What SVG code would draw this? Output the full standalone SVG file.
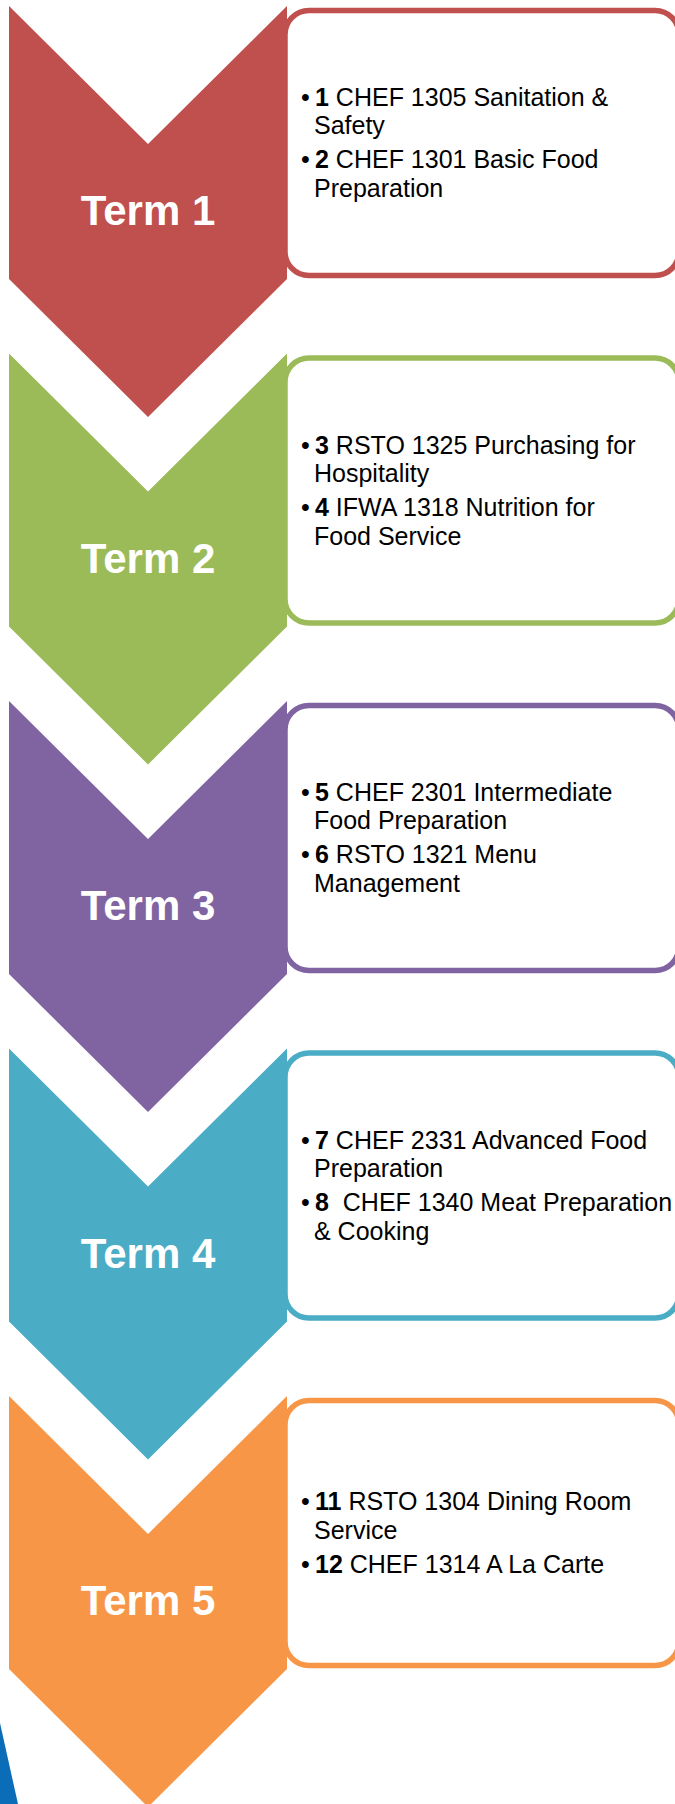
<svg xmlns="http://www.w3.org/2000/svg" width="675" height="1804" viewBox="0 0 675 1804">
  <style>
    .lbl { font-family: "Liberation Sans", Arial, sans-serif; font-weight: bold; font-size: 42px; fill: #ffffff; text-anchor: middle; }
    .body { font-family: "Liberation Sans", Arial, sans-serif; font-size: 25px; fill: #000000; }
    .num { font-weight: bold; }
    .box { fill: #ffffff; stroke-width: 5.5; }
    .t1 { fill: #C0504D; } .s1 { stroke: #C0504D; }
    .t2 { fill: #9BBB59; } .s2 { stroke: #9BBB59; }
    .t3 { fill: #8064A2; } .s3 { stroke: #8064A2; }
    .t4 { fill: #4BACC6; } .s4 { stroke: #4BACC6; }
    .t5 { fill: #F79646; } .s5 { stroke: #F79646; }
  </style>
  <defs>
    <polygon id="chev" points="9,0 148,138 287,0 287,273 148,411 9,273"/>
    <rect id="boxshape" x="285" y="4.5" width="394" height="265" rx="24" ry="24"/>
  </defs>
  <rect x="0" y="0" width="675" height="1804" fill="#ffffff"/>
  <polygon id="swoosh" points="0,1723 18,1804 0,1804" fill="#0B6DB7"/>

  <g id="term1" transform="translate(0,6)">
    <use href="#boxshape" class="box s1"/>
    <use href="#chev" class="t1"/>
    <text class="lbl" x="148" y="219">Term 1</text>
    <text class="body" x="301" y="100">•</text>
    <text class="body" x="315" y="100"><tspan class="num">1</tspan> CHEF 1305 Sanitation &amp;</text>
    <text class="body" x="314" y="128">Safety</text>
    <text class="body" x="301" y="162">•</text>
    <text class="body" x="315" y="162"><tspan class="num">2</tspan> CHEF 1301 Basic Food</text>
    <text class="body" x="314" y="191">Preparation</text>
  </g>

  <g id="term2" transform="translate(0,353.5)">
    <use href="#boxshape" class="box s2"/>
    <use href="#chev" class="t2"/>
    <text class="lbl" x="148" y="219">Term 2</text>
    <text class="body" x="301" y="100">•</text>
    <text class="body" x="315" y="100"><tspan class="num">3</tspan> RSTO 1325 Purchasing for</text>
    <text class="body" x="314" y="128">Hospitality</text>
    <text class="body" x="301" y="162">•</text>
    <text class="body" x="315" y="162"><tspan class="num">4</tspan> IFWA 1318 Nutrition for</text>
    <text class="body" x="314" y="191">Food Service</text>
  </g>

  <g id="term3" transform="translate(0,701)">
    <use href="#boxshape" class="box s3"/>
    <use href="#chev" class="t3"/>
    <text class="lbl" x="148" y="219">Term 3</text>
    <text class="body" x="301" y="100">•</text>
    <text class="body" x="315" y="100"><tspan class="num">5</tspan> CHEF 2301 Intermediate</text>
    <text class="body" x="314" y="128">Food Preparation</text>
    <text class="body" x="301" y="162">•</text>
    <text class="body" x="315" y="162"><tspan class="num">6</tspan> RSTO 1321 Menu</text>
    <text class="body" x="314" y="191">Management</text>
  </g>

  <g id="term4" transform="translate(0,1048.5)">
    <use href="#boxshape" class="box s4"/>
    <use href="#chev" class="t4"/>
    <text class="lbl" x="148" y="219">Term 4</text>
    <text class="body" x="301" y="100">•</text>
    <text class="body" x="315" y="100"><tspan class="num">7</tspan> CHEF 2331 Advanced Food</text>
    <text class="body" x="314" y="128">Preparation</text>
    <text class="body" x="301" y="162">•</text>
    <text class="body" x="315" y="162"><tspan class="num">8</tspan>&#160; CHEF 1340 Meat Preparation</text>
    <text class="body" x="314" y="191">&amp; Cooking</text>
  </g>

  <g id="term5" transform="translate(0,1396)">
    <use href="#boxshape" class="box s5"/>
    <use href="#chev" class="t5"/>
    <text class="lbl" x="148" y="219">Term 5</text>
    <text class="body" x="301" y="114">•</text>
    <text class="body" x="315" y="114"><tspan class="num">11</tspan> RSTO 1304 Dining Room</text>
    <text class="body" x="314" y="143">Service</text>
    <text class="body" x="301" y="177">•</text>
    <text class="body" x="315" y="177"><tspan class="num">12</tspan> CHEF 1314 A La Carte</text>
  </g>

  <g id="connectors"/>
</svg>
